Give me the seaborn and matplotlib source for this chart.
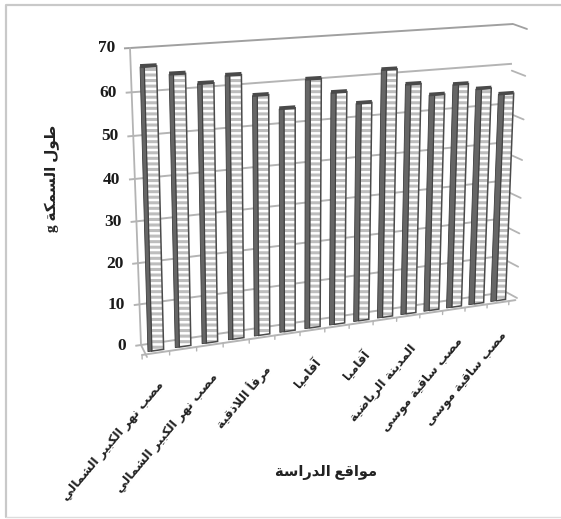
import numpy as np
import pandas as pd
import matplotlib
matplotlib.use("Agg")
import matplotlib.pyplot as plt
import matplotlib.transforms as mtransforms
import seaborn as sns

# Fish length per sampled site
site_index = list(range(15))
fish_length = [66, 64, 61.5, 63, 58, 54.5, 61, 57.5, 54.5, 62.2, 58.3, 55.3, 57.5, 56, 54.3]
value_ticks = [0, 10, 20, 30, 40, 50, 60, 70]
label_positions = [0, 2, 4, 6, 8, 10, 12, 14]
site_labels = [
    "مصب نهر الكبير الشمالي",
    "مصب نهر الكبير الشمالي",
    "مرفأ اللاذقية",
    "آفاميا",
    "آفاميا",
    "المدينة الرياضية",
    "مصب ساقية موسى",
    "مصب ساقية موسى",
]
x_title = "مواقع الدراسة"
y_title = "طول السمكة g"

WIDTH, HEIGHT, DPI = 561, 519, 100

# Contextual glyph forms: isolated, final, initial, medial
FORMS = {
    "ا": (0xFE8D, 0xFE8E), "آ": (0xFE81, 0xFE82), "أ": (0xFE83, 0xFE84),
    "ب": (0xFE8F, 0xFE90, 0xFE91, 0xFE92), "ة": (0xFE93, 0xFE94),
    "ت": (0xFE95, 0xFE96, 0xFE97, 0xFE98), "د": (0xFEA9, 0xFEAA),
    "ذ": (0xFEAB, 0xFEAC), "ر": (0xFEAD, 0xFEAE), "ز": (0xFEAF, 0xFEB0),
    "س": (0xFEB1, 0xFEB2, 0xFEB3, 0xFEB4), "ش": (0xFEB5, 0xFEB6, 0xFEB7, 0xFEB8),
    "ص": (0xFEB9, 0xFEBA, 0xFEBB, 0xFEBC), "ض": (0xFEBD, 0xFEBE, 0xFEBF, 0xFEC0),
    "ط": (0xFEC1, 0xFEC2, 0xFEC3, 0xFEC4),
    "ع": (0xFEC9, 0xFECA, 0xFECB, 0xFECC), "ف": (0xFED1, 0xFED2, 0xFED3, 0xFED4),
    "ق": (0xFED5, 0xFED6, 0xFED7, 0xFED8), "ك": (0xFED9, 0xFEDA, 0xFEDB, 0xFEDC),
    "ل": (0xFEDD, 0xFEDE, 0xFEDF, 0xFEE0), "م": (0xFEE1, 0xFEE2, 0xFEE3, 0xFEE4),
    "ن": (0xFEE5, 0xFEE6, 0xFEE7, 0xFEE8), "ه": (0xFEE9, 0xFEEA, 0xFEEB, 0xFEEC),
    "و": (0xFEED, 0xFEEE), "ى": (0xFEEF, 0xFEF0),
    "ي": (0xFEF1, 0xFEF2, 0xFEF3, 0xFEF4),
}


def shape_word(word):
    """Join one Arabic word into presentation forms, in drawing order."""
    out = []
    joined = False
    i = 0
    while i < len(word):
        ch = word[i]
        if ch == "ل" and i + 1 < len(word) and word[i + 1] in "اآأ":
            out.append(chr(0xFEFC if joined else 0xFEFB))
            joined = False
            i += 2
            continue
        forms = FORMS[ch]
        next_ok = i + 1 < len(word) and len(forms) == 4
        if joined:
            code = forms[3] if next_ok else forms[1]
        else:
            code = forms[2] if next_ok else forms[0]
        out.append(chr(code))
        joined = next_ok
        i += 1
    return "".join(reversed(out))


def shape_text(text):
    words = [shape_word(w) if w[0] in FORMS else w for w in text.split()]
    return " ".join(reversed(words))


def fit_homography(src, dst):
    rows = []
    for (u, v), (x, y) in zip(src, dst):
        rows.append([u, v, 1, 0, 0, 0, -x * u, -x * v, -x])
        rows.append([0, 0, 0, u, v, 1, -y * u, -y * v, -y])
    return np.linalg.svd(np.array(rows, float))[2][-1].reshape(3, 3)


class Perspective(mtransforms.Transform):
    """Projective map from a plane of the chart box onto the image."""
    input_dims = output_dims = 2
    is_separable = False
    has_inverse = False

    def __init__(self, matrix):
        super().__init__()
        self.matrix = matrix

    def transform_non_affine(self, values):
        pts = np.column_stack([values, np.ones(len(values))]) @ self.matrix.T
        return pts[:, :2] / pts[:, 2:]


sns.set_theme(style="white")
plt.rcParams["hatch.linewidth"] = 2.2

fig = plt.figure(figsize=(WIDTH / DPI, HEIGHT / DPI), dpi=DPI, facecolor="white")
ax = fig.add_axes([0, 0, 1, 1])
ax.set_axis_off()

to_image = mtransforms.Affine2D().scale(1, -1).translate(0, HEIGHT)
bar_plane = Perspective(fit_homography(
    [(0, 0), (7, 0), (14, 0), (0, 60), (7, 60), (14, 60)],
    [(158, 352), (333, 324), (500, 299), (149, 91), (339, 83), (507, 72)],
)) + to_image
back_wall = Perspective(fit_homography(
    [(0, 0), (0, 70), (1, 0), (1, 70)],
    [(141, 345), (130, 48), (506, 292), (513, 24)],
)) + to_image
side_wall = Perspective(fit_homography(
    [(0, 0), (0, 70), (1, 0), (1, 70)],
    [(506, 292), (513, 24), (517, 298), (527, 29)],
)) + to_image

# Walls and floor
GRID = "#b4b4b4"
for v in value_ticks:
    top = v == 70
    ax.plot([-0.014, 1], [v, v], color="#a0a0a0" if top else GRID, lw=1.4,
            transform=back_wall, zorder=1, solid_capstyle="butt")
    ax.plot([0, 1], [v, v], color="#a0a0a0" if top else GRID, lw=1.3,
            transform=side_wall, zorder=1)
    ax.annotate(str(v), xy=(-0.014, v), xycoords=back_wall, xytext=(-9, 0),
                textcoords="offset pixels", ha="right", va="center",
                family="Liberation Serif", weight="bold", fontsize=12.5,
                color="#1a1a1a")
ax.plot([0, 0], [0, 70], color=GRID, lw=1.3, transform=back_wall, zorder=1)
ax.plot([-0.5, 14.8], [-0.6, -0.6], color=GRID, lw=1.4, transform=bar_plane, zorder=1)
ax.plot([141, 147], [345, 357], color=GRID, lw=1.3, transform=to_image, zorder=1)
for tick in np.arange(-0.5, 15, 1):
    ax.plot([tick, tick], [-0.6, -1.6], color=GRID, lw=1, transform=bar_plane, zorder=1)

# Bars: hatched fronts, their outlines, dark side strips and top caps
frame = pd.DataFrame({"site": site_index, "length": fish_length})
positions = np.array(site_index, float)
heights = np.array(fish_length, float)
face_width = 0.43
strip_width = 0.14 + 0.11 * positions / positions.max()

sns.barplot(data=frame, x="site", y="length", native_scale=True, width=face_width,
            color="white", saturation=1, edgecolor="#bdbdbd", linewidth=0,
            hatch="---", errorbar=None, ax=ax, zorder=3)
front_faces = list(ax.patches)
sns.barplot(data=frame, x="site", y="length", native_scale=True, width=face_width,
            fill=False, color="#4a4a4a", linewidth=1.1, errorbar=None, ax=ax, zorder=4)
outlines = list(ax.patches)[len(front_faces):]
for patch, shift in zip(front_faces + outlines, np.tile(strip_width / 2, 2)):
    patch.set_x(patch.get_x() + shift)
    patch.set_transform(bar_plane)

side_strips = ax.bar(positions - face_width / 2, heights, width=strip_width,
                     color="#666666", edgecolor="#3c3c3c", linewidth=0.6, zorder=4)
top_caps = ax.bar(positions - face_width / 2 - strip_width / 2, 0.9, bottom=heights - 0.3,
                  width=face_width + strip_width, align="edge",
                  color="#4a4a4a", linewidth=0, zorder=5)
for patch in list(side_strips) + list(top_caps):
    patch.set_transform(bar_plane)

# Category labels under the floor
for pos, label in zip(label_positions, site_labels):
    ax.annotate(shape_text(label), xy=(pos, 0), xycoords=bar_plane, xytext=(6, -32),
                textcoords="offset pixels", rotation=50, rotation_mode="anchor",
                ha="right", va="center", family=["DejaVu Sans"], weight="bold",
                fontsize=8.9, color="#222222")

title_font = dict(family=["Liberation Serif", "DejaVu Sans"], weight="bold",
                  color="#222222", transform=to_image, ha="center", va="center")
ax.text(326, 472, shape_text(x_title), fontsize=10.5, **title_font)
ax.text(52, 178, shape_text(y_title), fontsize=11, rotation=90, **title_font)

# Thin frame around the chart area
ax.plot([6, 6, 561], [517, 5, 5], color="#c9c9c9", lw=1.6, transform=to_image, zorder=0)
ax.plot([6, 561], [517, 517], color="#dddddd", lw=1, transform=to_image, zorder=0)

ax.set_xlim(0, 1)
ax.set_ylim(0, 1)
ax.set_xlabel("")
ax.set_ylabel("")
fig.savefig("out.png", dpi=DPI)
